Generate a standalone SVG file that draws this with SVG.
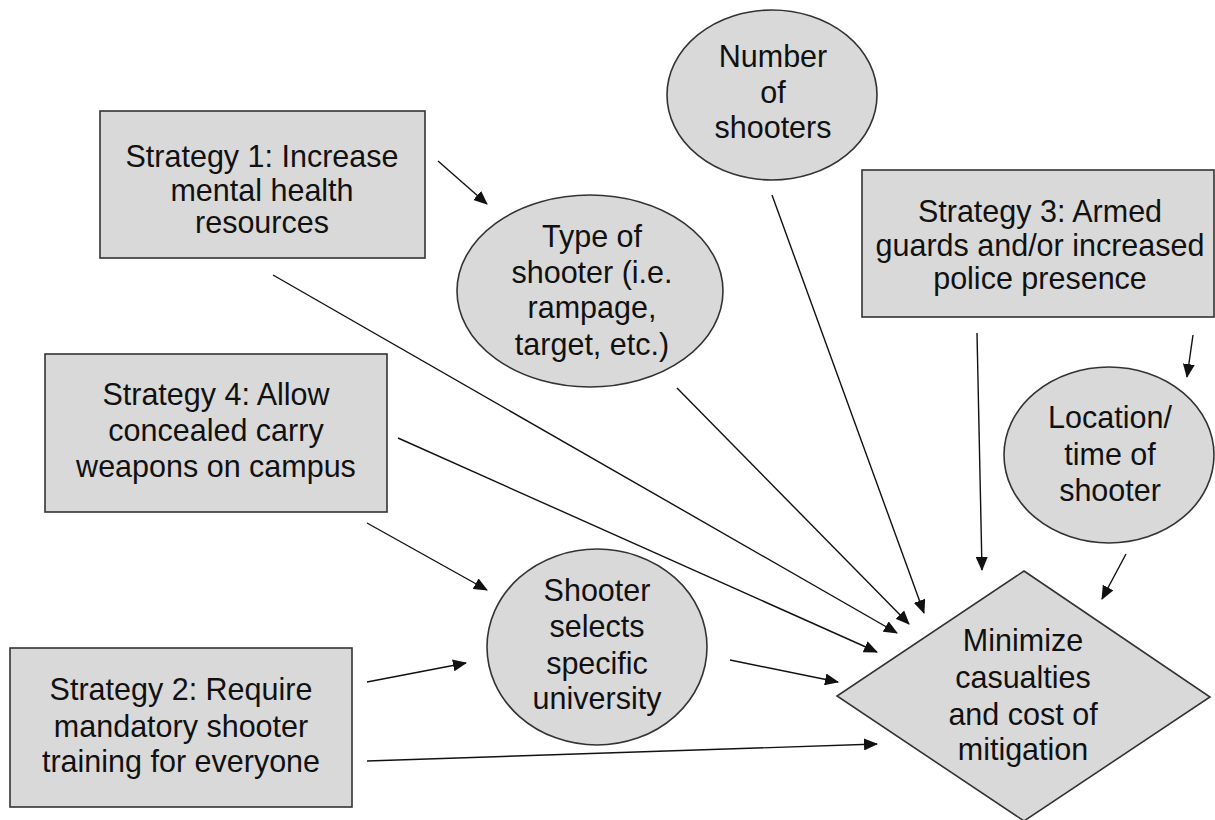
<svg xmlns="http://www.w3.org/2000/svg" width="1215" height="820" viewBox="0 0 1215 820">
<defs>
<style>
.box{fill:#d9d9d9;stroke:#333;stroke-width:1.6}
.t{font-family:"Liberation Sans",Arial,sans-serif;font-size:30.5px;fill:#111;text-anchor:middle}
.c{stroke:#111;stroke-width:1.4;fill:none;marker-end:url(#ah)}
</style>
<marker id="ah" markerWidth="14" markerHeight="12" refX="13" refY="6" orient="auto" markerUnits="userSpaceOnUse">
<path d="M0,0 L14,6 L0,12 z" fill="#111"/>
</marker>
</defs>
<rect width="1215" height="820" fill="#fff"/>
<g id="connectors">
<line class="c" x1="438" y1="161" x2="487" y2="204"/>
<line class="c" x1="273" y1="275" x2="897" y2="633"/>
<line class="c" x1="677" y1="388" x2="909" y2="624"/>
<line class="c" x1="772" y1="195" x2="924" y2="613"/>
<line class="c" x1="977" y1="333" x2="982" y2="570"/>
<line class="c" x1="1193" y1="335" x2="1187" y2="377"/>
<line class="c" x1="1126" y1="554" x2="1102" y2="599"/>
<line class="c" x1="398" y1="438" x2="877" y2="652"/>
<line class="c" x1="367" y1="523" x2="487" y2="590"/>
<line class="c" x1="367" y1="682" x2="466" y2="663"/>
<line class="c" x1="730" y1="660" x2="838" y2="682"/>
<line class="c" x1="367" y1="761" x2="877" y2="744"/>
</g>
<g id="strategy1">
<rect class="box" x="100" y="111" width="325" height="147"/>
<text class="t" x="262" y="167">Strategy 1: Increase</text>
<text class="t" x="262" y="201">mental health</text>
<text class="t" x="262" y="233">resources</text>
</g>
<g id="number">
<ellipse class="box" cx="772" cy="95" rx="105" ry="85"/>
<text class="t" x="773" y="67">Number</text>
<text class="t" x="773" y="103">of</text>
<text class="t" x="773" y="138">shooters</text>
</g>
<g id="type">
<ellipse class="box" cx="590" cy="291" rx="133" ry="96"/>
<text class="t" x="592" y="247">Type of</text>
<text class="t" x="592" y="283">shooter (i.e.</text>
<text class="t" x="592" y="318">rampage,</text>
<text class="t" x="592" y="355">target, etc.)</text>
</g>
<g id="strategy3">
<rect class="box" x="862" y="170" width="352" height="147"/>
<text class="t" x="1040" y="222">Strategy 3: Armed</text>
<text class="t" x="1040" y="256">guards and/or increased</text>
<text class="t" x="1040" y="289">police presence</text>
</g>
<g id="location">
<ellipse class="box" cx="1109" cy="455" rx="105" ry="88"/>
<text class="t" x="1110" y="428">Location/</text>
<text class="t" x="1110" y="465">time of</text>
<text class="t" x="1110" y="501">shooter</text>
</g>
<g id="strategy4">
<rect class="box" x="45" y="354" width="342" height="158"/>
<text class="t" x="216" y="405">Strategy 4: Allow</text>
<text class="t" x="216" y="441">concealed carry</text>
<text class="t" x="216" y="477">weapons on campus</text>
</g>
<g id="selects">
<ellipse class="box" cx="597" cy="647" rx="110" ry="98"/>
<text class="t" x="597" y="601">Shooter</text>
<text class="t" x="597" y="637">selects</text>
<text class="t" x="597" y="674">specific</text>
<text class="t" x="597" y="709">university</text>
</g>
<g id="strategy2">
<rect class="box" x="10" y="648" width="342" height="159"/>
<text class="t" x="181" y="700">Strategy 2: Require</text>
<text class="t" x="181" y="737">mandatory shooter</text>
<text class="t" x="181" y="772">training for everyone</text>
</g>
<g id="goal">
<polygon class="box" points="1024,571 1210,697 1024,821 837,696"/>
<text class="t" x="1023" y="651">Minimize</text>
<text class="t" x="1023" y="688">casualties</text>
<text class="t" x="1023" y="725">and cost of</text>
<text class="t" x="1023" y="760">mitigation</text>
</g>
</svg>
